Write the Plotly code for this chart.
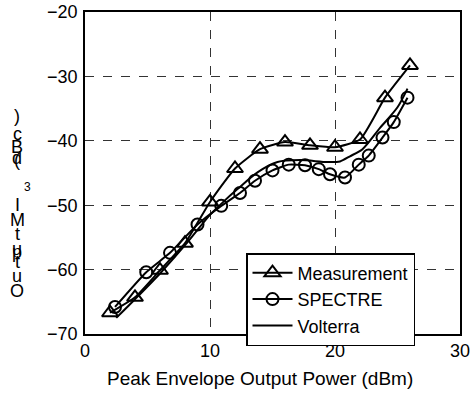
import plotly.graph_objects as go

meas_x = [2, 4, 6, 8, 10, 12, 14, 16, 18, 20, 22, 24, 26]
meas_y = [-66.7, -64.3, -60.1, -55.9, -49.5, -44.3, -41.3, -40.2, -40.7, -41.0, -39.8, -33.3, -28.3]

spec_x = [2.4, 4.9, 6.8, 9.0, 10.9, 12.4, 13.6, 15.0, 16.3, 17.6, 18.7, 19.6, 20.8, 21.9, 22.7, 23.8, 24.7, 25.8]
spec_y = [-65.8, -60.4, -57.4, -53.0, -50.1, -48.1, -46.2, -44.6, -43.7, -43.8, -44.4, -45.2, -45.7, -43.7, -42.3, -39.5, -37.1, -33.3]

volt_x = [2.5, 4, 6, 8, 10, 11, 12.2, 13.8, 15.4, 17.2, 19.4, 20.4, 21.2, 22.2, 23.6, 25, 25.8]
volt_y = [-67.5, -64.6, -60.6, -56.2, -51.5, -49.6, -47.5, -44.9, -43.3, -43.0, -43.3, -43.2, -42.4, -41.3, -38.0, -34.8, -31.9]

x_ticks = [0, 10, 20, 30]
y_ticks = [-70, -60, -50, -40, -30, -20]

x_title = "Peak Envelope Output Power (dBm)"
ylabel_chars = [")", "c", "B", "d", "(", "3", "I", "M", "t", "u", "p", "t", "u", "O"]

FONT = "Liberation Sans, Arial, sans-serif"

fig = go.Figure()
fig.add_trace(go.Scatter(
    x=meas_x, y=meas_y, mode="lines+markers", name="Measurement",
    line=dict(color="black", width=2, shape="spline", smoothing=0.5),
    marker=dict(symbol="triangle-up-open", size=14, color="black", line=dict(width=2, color="black")),
))
fig.add_trace(go.Scatter(
    x=spec_x, y=spec_y, mode="lines+markers", name="SPECTRE",
    line=dict(color="black", width=2, shape="spline", smoothing=0.5),
    marker=dict(symbol="circle-open", size=12, color="black", line=dict(width=2, color="black")),
))
fig.add_trace(go.Scatter(
    x=volt_x, y=volt_y, mode="lines", name="Volterra",
    line=dict(color="black", width=2, shape="spline", smoothing=0.8),
))

L, R, T, B = 85, 460, 12, 334
# Y-axis label (characters stacked as in the reference)
ypix = [116, 134, 147, 158, 160, 187, 205, 220, 234, 249, 252, 262, 276, 291]
for ch, py in zip(ylabel_chars, ypix):
    size = 12 if ch == "3" else 18
    xoff = 27 if ch == "3" else 17
    fig.add_annotation(
        text=ch, xref="paper", yref="paper",
        x=(xoff - L) / (R - L), y=(B - py) / (B - T),
        xanchor="center", yanchor="middle", showarrow=False,
        font=dict(family=FONT, size=size, color="black"),
    )

# X-axis title
fig.add_annotation(
    text=x_title, xref="paper", yref="paper",
    x=(260 - L) / (R - L), y=(B - 378) / (B - T),
    xanchor="center", yanchor="middle", showarrow=False,
    font=dict(family=FONT, size=19, color="black"),
)

axis_common = dict(
    showline=True, linecolor="black", linewidth=1.5, mirror=True,
    showgrid=True, gridcolor="#333333", griddash="dash", gridwidth=1,
    zeroline=False, ticks="", automargin=False,
    tickfont=dict(family=FONT, size=18, color="black"),
)
fig.update_xaxes(range=[0, 30], tickvals=x_ticks, ticklabelstandoff=0, **axis_common)
fig.update_yaxes(range=[-70, -20], tickvals=y_ticks, ticklabelstandoff=2, **axis_common)

fig.update_layout(
    width=471, height=394,
    margin=dict(l=L, r=471 - R, t=T, b=394 - B),
    plot_bgcolor="white", paper_bgcolor="white",
    font=dict(family=FONT, color="black"),
    legend=dict(
        x=(246 - L) / (R - L), y=(B - 253) / (B - T), xanchor="left", yanchor="top",
        bgcolor="white", bordercolor="black", borderwidth=1.5,
        font=dict(family=FONT, size=18, color="black"),
        tracegroupgap=0, itemwidth=40,
    ),
)

fig.write_html("out.html")
